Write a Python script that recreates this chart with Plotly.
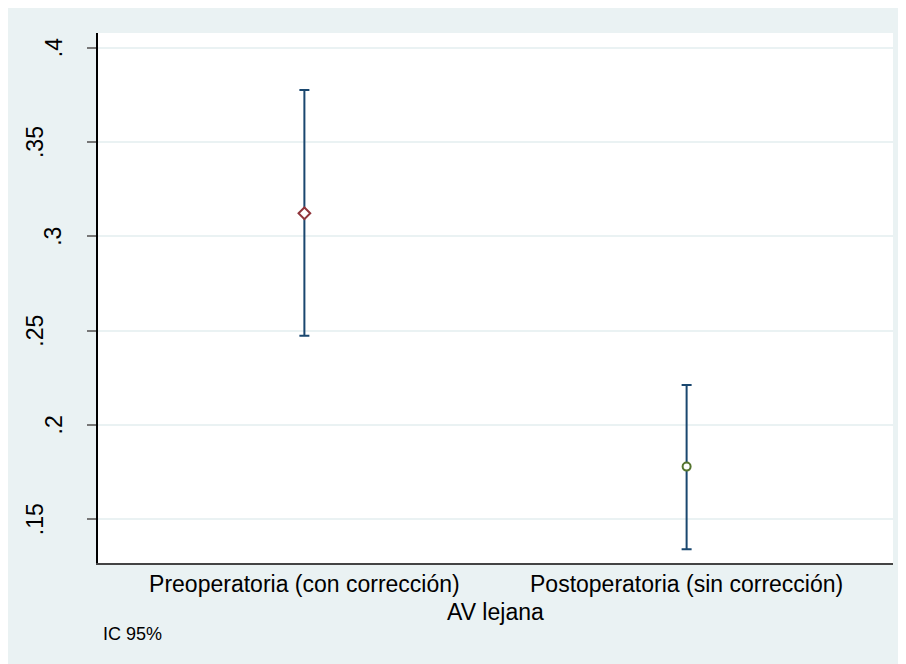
import plotly.graph_objects as go

# ---- data ----
categories = ["Preoperatoria (con corrección)", "Postoperatoria (sin corrección)"]
means = [0.3122, 0.1779]
upper = [0.3776, 0.2212]
lower = [0.2473, 0.1341]
y_ticks = [0.15, 0.2, 0.25, 0.3, 0.35, 0.4]
y_tick_labels = [".15", ".2", ".25", ".3", ".35", ".4"]
x_title = "AV lejana"
note = "IC 95%"

# ---- style ----
OFF = 8  # page body margin
W, H = 920, 680
ML, MT = 98 - OFF, 33 - OFF
PLOT_R, PLOT_B = 893 - OFF, 563 - OFF
MR, MB = W - PLOT_R, H - PLOT_B
PW, PH = W - ML - MR, H - MT - MB
BG = "#EAF2F3"
NAVY = "#1A476F"
marker_styles = [
    dict(symbol="diamond", size=9, color="white", line=dict(color="#90353B", width=2)),
    dict(symbol="circle", size=8, color="white", line=dict(color="#55752F", width=2)),
]
FONT = "Liberation Sans, Arial, sans-serif"

fig = go.Figure()
for i, cat in enumerate(categories):
    xi = i + 1
    fig.add_trace(go.Scatter(
        x=[xi], y=[means[i]], mode="markers", name=cat,
        marker=marker_styles[i],
        error_y=dict(type="data", symmetric=False,
                     array=[upper[i] - means[i]],
                     arrayminus=[means[i] - lower[i]],
                     color=NAVY, thickness=2, width=5),
        showlegend=False,
    ))

annotations = []
for v, lab in zip(y_ticks, y_tick_labels):
    shift = -44.5 if len(lab) <= 2 else -63
    annotations.append(dict(
        x=0, xref="paper", y=v, yref="y", text=lab, showarrow=False,
        textangle=-90, xanchor="center", yanchor="middle", xshift=shift,
        font=dict(size=23, color="black", family=FONT)))
annotations.append(dict(
    x=0.5, xref="paper", y=-(612 - 563) / PH, yref="paper", text=x_title,
    showarrow=False, xanchor="center", yanchor="middle",
    font=dict(size=23, color="black", family=FONT)))
annotations.append(dict(
    x=3 / PW, xref="paper", y=-(634 - 563) / PH, yref="paper", text=note,
    showarrow=False, xanchor="left", yanchor="middle",
    font=dict(size=18, color="black", family=FONT)))

fig.update_layout(
    width=W, height=H,
    margin=dict(l=ML, r=MR, t=MT, b=MB),
    paper_bgcolor=BG, plot_bgcolor="white",
    font=dict(family=FONT, color="black"),
    annotations=annotations,
    xaxis=dict(range=[0.46, 2.54], tickvals=[1, 2], ticktext=categories,
               showgrid=False, zeroline=False, ticks="",
               showline=True, linecolor="#444444", linewidth=1.5,
               tickfont=dict(size=23, color="black")),
    yaxis=dict(range=[0.1268, 0.4078], tickvals=y_ticks, showticklabels=False,
               ticks="outside", ticklen=9, tickcolor="#777777", tickwidth=1.5,
               showgrid=True, gridcolor=BG, gridwidth=1.5, zeroline=False,
               showline=True, linecolor="black", linewidth=1.5),
)

fig.write_html("out.html")
